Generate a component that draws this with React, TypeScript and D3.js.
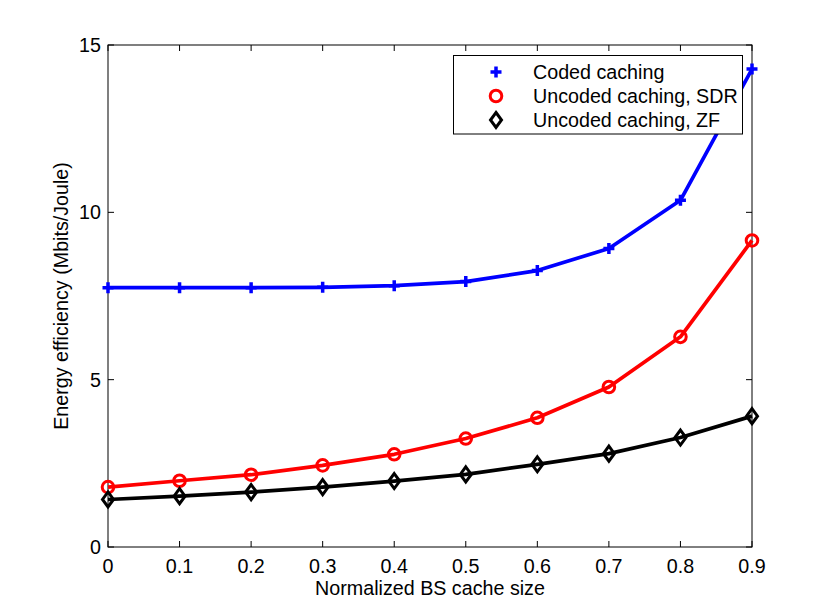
import * as d3 from "d3";

const CACHE_SIZES = [0, 0.1, 0.2, 0.3, 0.4, 0.5, 0.6, 0.7, 0.8, 0.9];
const CODED = [7.75, 7.75, 7.75, 7.76, 7.81, 7.93, 8.26, 8.92, 10.36, 14.28];
const SDR = [1.79, 1.98, 2.16, 2.44, 2.77, 3.24, 3.86, 4.78, 6.28, 9.16];
const ZF = [1.42, 1.52, 1.64, 1.79, 1.97, 2.17, 2.47, 2.79, 3.27, 3.91];
const X_TICKS = [0, 0.1, 0.2, 0.3, 0.4, 0.5, 0.6, 0.7, 0.8, 0.9];
const Y_TICKS = [0, 5, 10, 15];

type Marker = "plus" | "circle" | "diamond";

const SERIES: { name: string; values: number[]; color: string; marker: Marker }[] = [
  { name: "Coded caching", values: CODED, color: "#0000ff", marker: "plus" },
  { name: "Uncoded caching, SDR", values: SDR, color: "#ff0000", marker: "circle" },
  { name: "Uncoded caching, ZF", values: ZF, color: "#000000", marker: "diamond" },
];

const W = 830;
const H = 616;
const M = { left: 108, right: 752, top: 45, bottom: 547 };
const FONT = "'Liberation Sans', Arial, Helvetica, sans-serif";
const FS = 19.7;

const x = d3.scaleLinear().domain([0, 0.9]).range([M.left, M.right]);
const y = d3.scaleLinear().domain([0, 15]).range([M.bottom, M.top]);

const MarkerShape = ({ kind, cx, cy, color }: { kind: Marker; cx: number; cy: number; color: string }) => {
  if (kind === "plus") {
    return (
      <path
        d={`M${cx - 5.5},${cy}H${cx + 5.5}M${cx},${cy - 5.5}V${cy + 5.5}`}
        stroke={color}
        strokeWidth={3.5}
        fill="none"
      />
    );
  }
  if (kind === "circle") {
    return <circle cx={cx} cy={cy} r={5.8} stroke={color} strokeWidth={3} fill="none" />;
  }
  return (
    <path
      d={`M${cx},${cy - 7.5}L${cx + 5.5},${cy}L${cx},${cy + 7.5}L${cx - 5.5},${cy}Z`}
      stroke={color}
      strokeWidth={3}
      fill="none"
    />
  );
};

export default function App() {
  const line = d3
    .line<number>()
    .x((_, i) => x(CACHE_SIZES[i]))
    .y((d) => y(d));

  return (
    <svg
      width={W}
      height={H}
      style={{ position: "absolute", left: 0, top: 0, background: "#fff" }}
      fontFamily={FONT}
    >
      {/* axes box */}
      <rect
        x={M.left}
        y={M.top}
        width={M.right - M.left}
        height={M.bottom - M.top}
        fill="#fff"
        stroke="#000"
        strokeWidth={1}
      />

      {X_TICKS.map((t) => (
        <g key={"x" + t}>
          <line x1={x(t)} x2={x(t)} y1={M.bottom} y2={M.bottom - 6} stroke="#000" />
          <line x1={x(t)} x2={x(t)} y1={M.top} y2={M.top + 6} stroke="#000" />
          <text x={x(t)} y={573} textAnchor="middle" fontSize={FS}>
            {t === 0 ? "0" : d3.format(".1f")(t)}
          </text>
        </g>
      ))}

      {Y_TICKS.map((t) => (
        <g key={"y" + t}>
          <line x1={M.left} x2={M.left + 6} y1={y(t)} y2={y(t)} stroke="#000" />
          <line x1={M.right} x2={M.right - 6} y1={y(t)} y2={y(t)} stroke="#000" />
          <text x={101} y={y(t)} dy="0.35em" textAnchor="end" fontSize={FS}>
            {t}
          </text>
        </g>
      ))}

      {SERIES.map((s) => (
        <g key={s.name}>
          <path d={line(s.values) ?? ""} stroke={s.color} strokeWidth={3.7} fill="none" strokeLinejoin="round" />
          {s.values.map((v, i) => (
            <MarkerShape key={i} kind={s.marker} cx={x(CACHE_SIZES[i])} cy={y(v)} color={s.color} />
          ))}
        </g>
      ))}

      <text x={(M.left + M.right) / 2} y={595} textAnchor="middle" fontSize={FS}>
        Normalized BS cache size
      </text>
      <text
        transform={`translate(68,${(M.top + M.bottom) / 2}) rotate(-90)`}
        textAnchor="middle"
        fontSize={FS}
      >
        Energy efficiency (Mbits/Joule)
      </text>

      {/* legend */}
      <rect x={453.5} y={55.5} width={289} height={78.5} fill="#fff" stroke="#000" strokeWidth={1} />
      {SERIES.map((s, i) => (
        <g key={"lg" + s.name}>
          <MarkerShape kind={s.marker} cx={496} cy={72 + i * 24} color={s.color} />
          <text x={533} y={72 + i * 24} dy="0.35em" fontSize={FS}>
            {s.name}
          </text>
        </g>
      ))}
    </svg>
  );
}
